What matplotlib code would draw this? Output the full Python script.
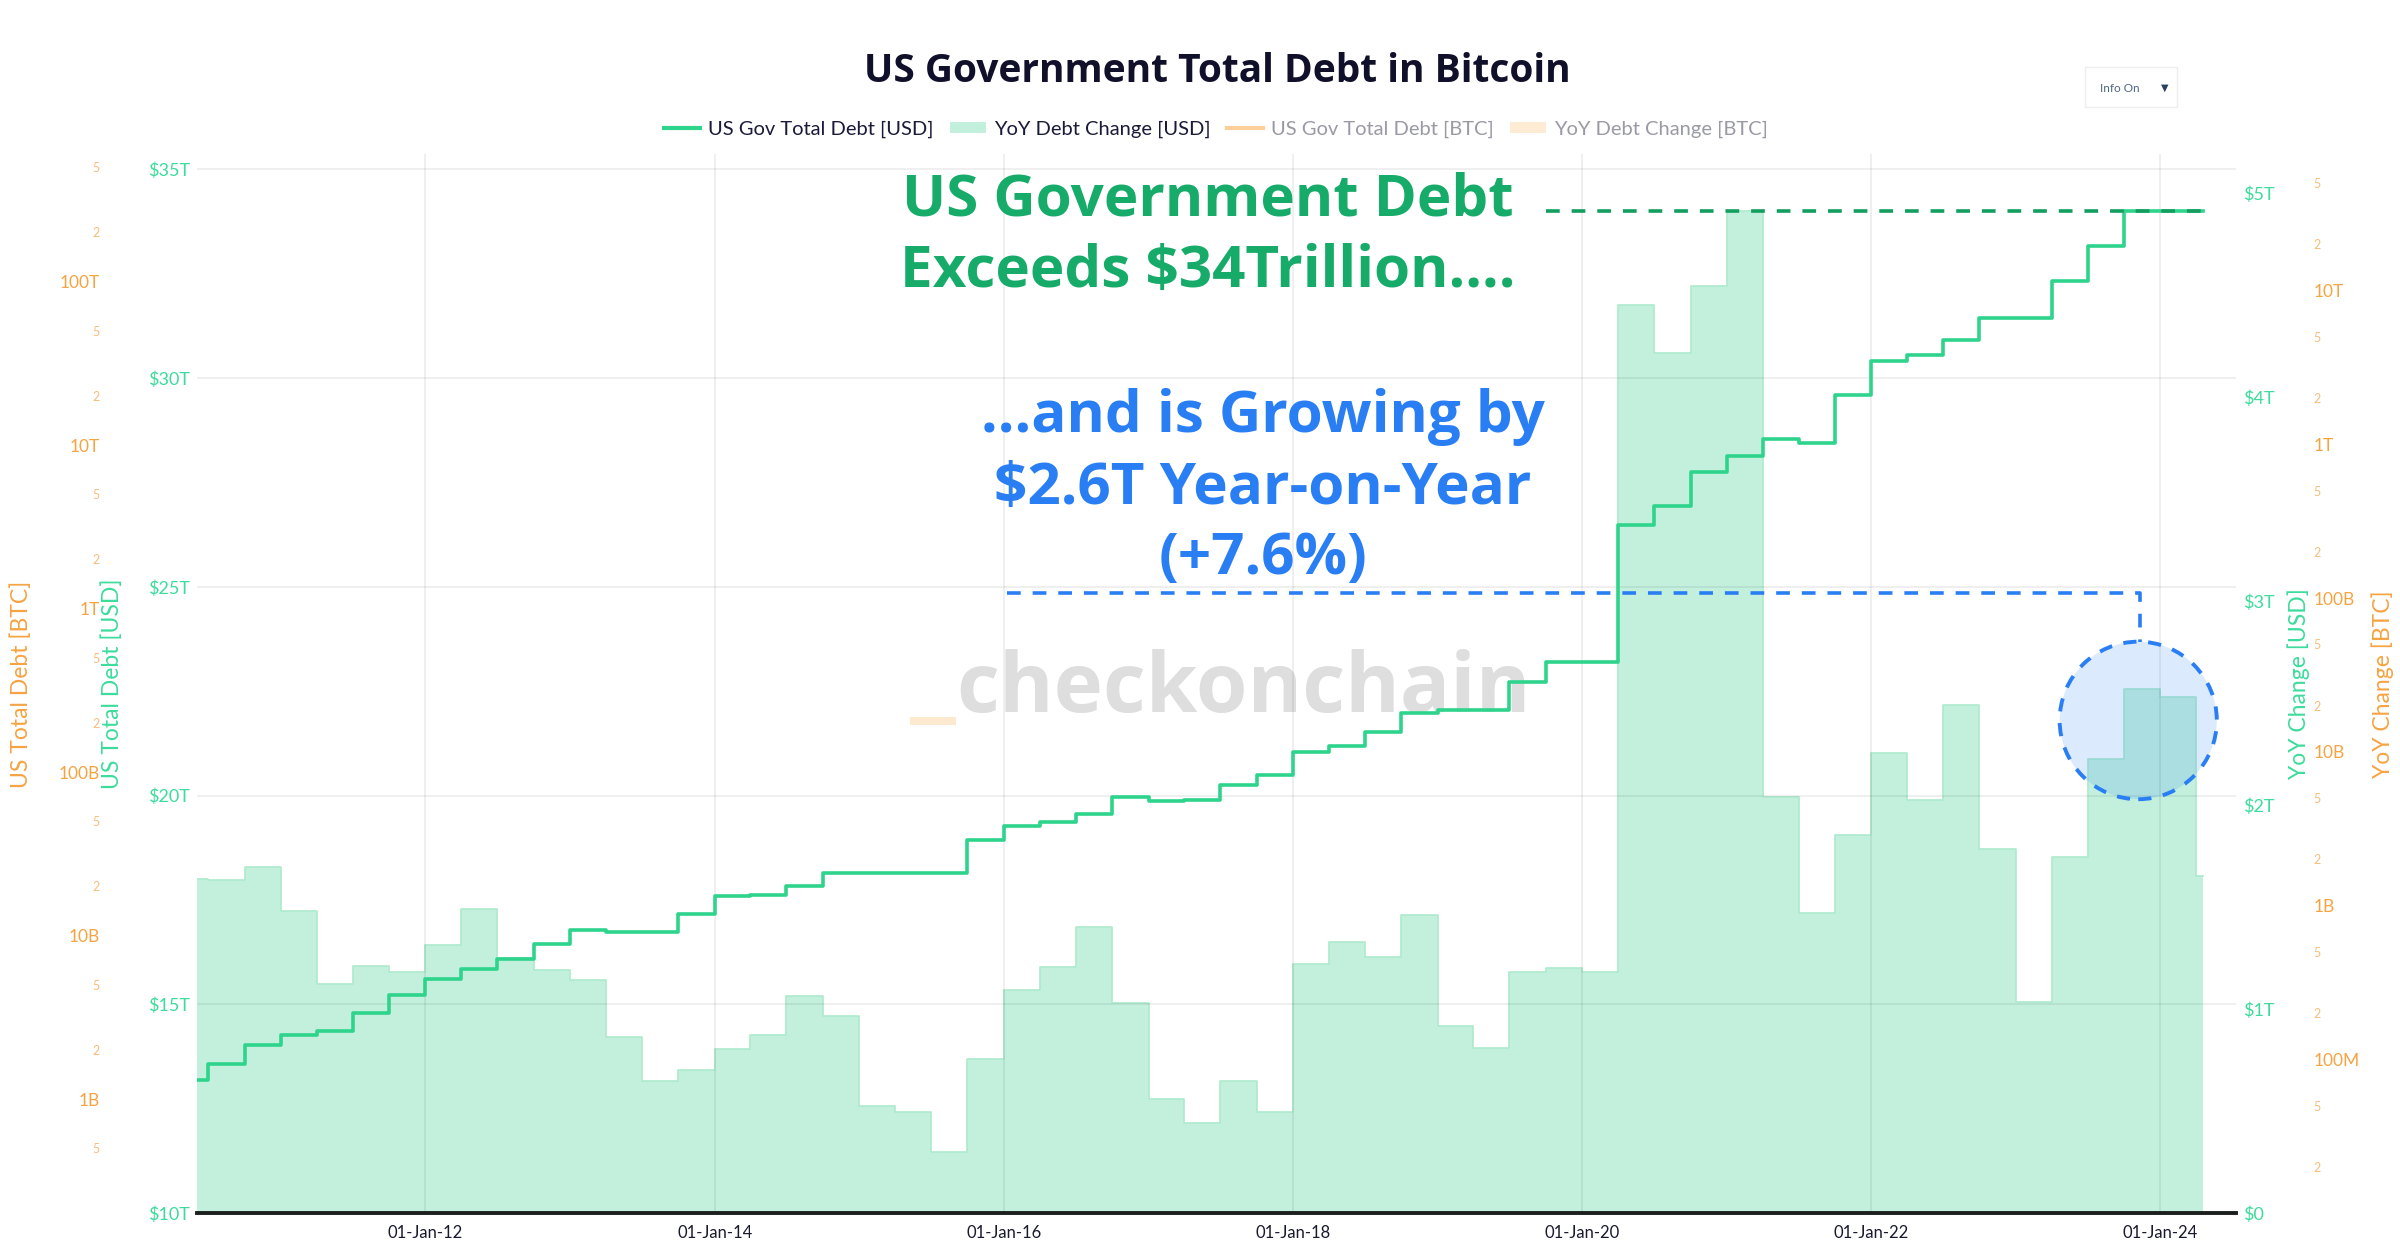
import matplotlib
matplotlib.use('Agg')
import matplotlib.pyplot as plt
from matplotlib.patches import Ellipse, Patch, Rectangle
from matplotlib.lines import Line2D
from matplotlib.ticker import FixedLocator, FixedFormatter
import matplotlib.dates as mdates
import pandas as pd
import numpy as np

# ---------------- data ----------------
quarter_starts = pd.date_range('2010-04-01', '2024-04-01', freq='QS')
last_date = pd.Timestamp('2024-04-17')

debt_usd_t = [13.19, 13.57, 14.02,
              14.27, 14.35, 14.80, 15.23,
              15.61, 15.85, 16.08, 16.44,
              16.77, 16.73, 16.73, 17.16,
              17.60, 17.63, 17.83, 18.14,
              18.14, 18.14, 18.14, 18.94,
              19.26, 19.36, 19.56, 19.97,
              19.88, 19.90, 20.26, 20.49,
              21.04, 21.19, 21.52, 21.98,
              22.04, 22.04, 22.72, 23.21,
              23.21, 26.48, 26.94, 27.75,
              28.13, 28.54, 28.44, 29.60,
              30.40, 30.56, 30.92, 31.43,
              31.45, 32.33, 33.16, 34.00,
              34.00, 34.00]

yoy_change_usd_t = [1.639, 1.632, 1.696,
                    1.479, 1.121, 1.212, 1.182,
                    1.315, 1.492, 1.248, 1.192,
                    1.141, 0.861, 0.648, 0.701,
                    0.804, 0.874, 1.065, 0.965,
                    0.524, 0.494, 0.300, 0.754,
                    1.091, 1.208, 1.402, 1.031,
                    0.557, 0.441, 0.648, 0.497,
                    1.222, 1.328, 1.255, 1.459,
                    0.915, 0.808, 1.182, 1.202,
                    1.182, 4.449, 4.216, 4.543,
                    4.910, 2.039, 1.469, 1.852,
                    2.253, 2.023, 2.490, 1.786,
                    1.035, 1.746, 2.223, 2.570,
                    2.530, 1.652]

usd_left_ticks = [10, 15, 20, 25, 30, 35]
usd_left_labels = ['$10T', '$15T', '$20T', '$25T', '$30T', '$35T']
usd_right_ticks = [0, 1, 2, 3, 4, 5]
usd_right_labels = ['$0', '$1T', '$2T', '$3T', '$4T', '$5T']
btc_left_major = [1e9, 1e10, 1e11, 1e12, 1e13, 1e14]
btc_left_major_labels = ['1B', '10B', '100B', '1T', '10T', '100T']
btc_right_major = [1e8, 1e9, 1e10, 1e11, 1e12, 1e13]
btc_right_major_labels = ['100M', '1B', '10B', '100B', '1T', '10T']
x_tick_dates = ['2012-01-01', '2014-01-01', '2016-01-01', '2018-01-01',
                '2020-01-01', '2022-01-01', '2024-01-01']
x_tick_labels = ['01-Jan-12', '01-Jan-14', '01-Jan-16', '01-Jan-18',
                 '01-Jan-20', '01-Jan-22', '01-Jan-24']

legend_labels = ['US Gov Total Debt [USD]', 'YoY Debt Change [USD]',
                 'US Gov Total Debt [BTC]', 'YoY Debt Change [BTC]']

# ---------------- style ----------------
FONT = ['Lato', 'DejaVu Sans']
BOLD_FONT = ['Open Sans', 'DejaVu Sans']
plt.rcParams['font.family'] = FONT
W, H = 2400, 1255
LINE_C = '#2ed48c'
BAR_C = '#c3f0dd'
BAR_EDGE = '#aeeacd'
TICK_G = '#3ddc9c'
ORANGE = '#f6a342'
ORANGE_L = '#f8bd7b'
ANN_GREEN = '#17ab69'
ANN_BLUE = '#2a7ef4'

fig = plt.figure(figsize=(W / 100, H / 100), dpi=100, facecolor='white')

def fx(px):
    return px / W

def fy(py):
    return 1 - py / H

pos = [197 / W, (H - 1213) / H, (2236 - 197) / W, (1213 - 154) / H]

# BTC axes (labels only)
ax_bl = fig.add_axes(pos, zorder=0)
ax_br = fig.add_axes(pos, zorder=0)
for a in (ax_bl, ax_br):
    a.patch.set_visible(False)
    for s in a.spines.values():
        s.set_visible(False)
    a.set_yscale('log')
    a.xaxis.set_visible(False)

def minor_positions(lo, hi):
    out = []
    for k in range(5, 16):
        for m in (2, 5):
            v = m * 10.0 ** k
            if lo * 1.05 < v < hi * 0.98:
                out.append(v)
    return out

def minor_labels(vals):
    return ['%g' % (v / 10 ** np.floor(np.log10(v))) for v in vals]

bl_lo, bl_hi = 10 ** 8.303, 10 ** 14.78
ax_bl.set_ylim(bl_lo, bl_hi)
ax_bl.yaxis.tick_left()
ax_bl.yaxis.set_major_locator(FixedLocator(btc_left_major))
ax_bl.yaxis.set_major_formatter(FixedFormatter(btc_left_major_labels))
mpos = minor_positions(bl_lo, bl_hi)
ax_bl.yaxis.set_minor_locator(FixedLocator(mpos))
ax_bl.yaxis.set_minor_formatter(FixedFormatter(minor_labels(mpos)))
ax_bl.tick_params(axis='y', which='major', length=0, pad=70, labelsize=12.5, labelcolor=ORANGE)
ax_bl.tick_params(axis='y', which='minor', length=0, pad=70, labelsize=9, labelcolor=ORANGE_L)

br_lo, br_hi = 10 ** 7.0, 10 ** 13.889
ax_br.set_ylim(br_lo, br_hi)
ax_br.yaxis.tick_right()
ax_br.yaxis.set_major_locator(FixedLocator(btc_right_major))
ax_br.yaxis.set_major_formatter(FixedFormatter(btc_right_major_labels))
mpos_r = minor_positions(br_lo, br_hi)
ax_br.yaxis.set_minor_locator(FixedLocator(mpos_r))
ax_br.yaxis.set_minor_formatter(FixedFormatter(minor_labels(mpos_r)))
ax_br.tick_params(axis='y', which='major', length=0, pad=56, labelsize=12.5, labelcolor=ORANGE)
ax_br.tick_params(axis='y', which='minor', length=0, pad=56, labelsize=9, labelcolor=ORANGE_L)

# main axes: line (left) + bars (right)
ax_line = fig.add_axes(pos, zorder=2)
ax_bar = ax_line.twinx()
ax_bar.set_zorder(1)
ax_line.set_zorder(2)
ax_line.patch.set_visible(False)
ax_bar.patch.set_visible(True)
ax_bar.patch.set_facecolor('white')

x_steps = list(quarter_starts) + [last_date]
bars_ext = yoy_change_usd_t + [yoy_change_usd_t[-1]]
debt_ext = debt_usd_t + [debt_usd_t[-1]]

ax_bar.fill_between(x_steps, 0, bars_ext, step='post', facecolor=BAR_C, edgecolor='none', lw=0)
ax_bar.step(x_steps, bars_ext, where='post', color=BAR_EDGE, lw=1.2)
ax_bar.set_ylim(0, 5.19)
ax_bar.yaxis.set_major_locator(FixedLocator(usd_right_ticks))
ax_bar.yaxis.set_major_formatter(FixedFormatter(usd_right_labels))
ax_bar.tick_params(axis='y', length=0, pad=5, labelsize=13, labelcolor=TICK_G)
for s in ax_bar.spines.values():
    s.set_visible(False)

ax_line.step(x_steps, debt_ext, where='post', color=LINE_C, lw=2.6, zorder=5)
ax_line.set_ylim(10, 35.37)
ax_line.set_xlim(pd.Timestamp('2010-06-03'), pd.Timestamp('2024-07-10'))
ax_line.yaxis.set_major_locator(FixedLocator(usd_left_ticks))
ax_line.yaxis.set_major_formatter(FixedFormatter(usd_left_labels))
ax_line.tick_params(axis='y', length=0, pad=5, labelsize=13, labelcolor=TICK_G)
ax_line.xaxis.set_major_locator(FixedLocator(mdates.date2num(pd.to_datetime(x_tick_dates))))
ax_line.xaxis.set_major_formatter(FixedFormatter(x_tick_labels))
ax_line.tick_params(axis='x', length=0, pad=9, labelsize=12, labelcolor='#1a1a2e')
ax_line.grid(True, color='black', alpha=0.075, lw=1.2)
ax_line.set_axisbelow(True)
for k in ('top', 'left', 'right'):
    ax_line.spines[k].set_visible(False)
ax_line.spines['bottom'].set_color('#1b1f1d')
ax_line.spines['bottom'].set_linewidth(2.8)

# annotations: dashed lines and circle
ax_line.plot([pd.Timestamp('2019-10-01'), last_date], [debt_usd_t[-1], debt_usd_t[-1]],
             color='#139d5e', lw=2.6, dashes=(3.8, 3.3), zorder=6)
d_start = pd.Timestamp('2016-01-10')
d_corner = pd.Timestamp('2023-11-10')
ax_line.plot([d_start, d_corner, d_corner], [24.86, 24.86, 23.69],
             color=ANN_BLUE, lw=2.6, dashes=(3.8, 3.3), zorder=6)
ell = Ellipse((mdates.date2num(pd.Timestamp('2023-11-06')), 21.80), width=397, height=3.774,
              facecolor=(0.16, 0.50, 0.96, 0.16), edgecolor=ANN_BLUE, lw=2.8,
              linestyle=(0, (3.4, 3.0)), zorder=7)
ax_line.add_patch(ell)

# watermark
fig.text(fx(1243), fy(712), 'checkonchain', ha='center', va='baseline',
         fontsize=60, fontweight='bold', color='#dedede', family=BOLD_FONT, zorder=1)
fig.patches.append(Rectangle((fx(910), fy(725)), (956 - 910) / W, 8 / H, transform=fig.transFigure,
                             facecolor='#fde9cf', edgecolor='none', zorder=1))

# annotation texts
ann_kw = dict(ha='center', va='baseline', fontsize=42, fontweight='bold', family=BOLD_FONT, zorder=10)
fig.text(fx(1208), fy(216), 'US Government Debt', color=ANN_GREEN, **ann_kw)
fig.text(fx(1208), fy(287), 'Exceeds $34Trillion....', color=ANN_GREEN, **ann_kw)
fig.text(fx(1263), fy(432), '...and is Growing by', color=ANN_BLUE, **ann_kw)
fig.text(fx(1263), fy(504), '$2.6T Year-on-Year', color=ANN_BLUE, **ann_kw)
fig.text(fx(1263), fy(574), '(+7.6%)', color=ANN_BLUE, **ann_kw)

# title
fig.text(fx(1217), fy(82), 'US Government Total Debt in Bitcoin', ha='center', va='baseline',
         fontsize=28, fontweight='bold', color='#10102a', family=BOLD_FONT)

# axis titles
fig.text(fx(21), fy(684), 'US Total Debt [BTC]', rotation=90, ha='center', va='center',
         fontsize=16.5, color=ORANGE)
fig.text(fx(112), fy(684), 'US Total Debt [USD]', rotation=90, ha='center', va='center',
         fontsize=16.5, color=TICK_G)
fig.text(fx(2299), fy(684), 'YoY Change [USD]', rotation=90, ha='center', va='center',
         fontsize=16.5, color=TICK_G)
fig.text(fx(2383), fy(684), 'YoY Change [BTC]', rotation=90, ha='center', va='center',
         fontsize=16.5, color=ORANGE)

# legend
handles = [Line2D([], [], color=LINE_C, lw=3),
           Patch(facecolor=BAR_C, edgecolor='none'),
           Line2D([], [], color='#fbcf98', lw=3),
           Patch(facecolor='#fdebd3', edgecolor='none')]
leg = fig.legend(handles, legend_labels, loc='center', ncol=4,
                 bbox_to_anchor=(fx(1216), fy(129)), frameon=False, fontsize=14.5,
                 handlelength=1.8, handleheight=0.5, handletextpad=0.4, columnspacing=0.8)
for t, c in zip(leg.get_texts(), ['#1a1a3a', '#1a1a3a', '#9a9aa6', '#9a9aa6']):
    t.set_color(c)

# Info On button
fig.patches.append(Rectangle((fx(2085), fy(107)), 92 / W, 40 / H, transform=fig.transFigure,
                             facecolor='white', edgecolor='#eeeeee', lw=1))
fig.text(fx(2100), fy(88), 'Info On', ha='left', va='center', fontsize=8.5, color='#506784')
fig.text(fx(2165), fy(88), '\u25BC', ha='center', va='center', fontsize=7, color='#2a3f5f',
         family=['DejaVu Sans'])

fig.savefig('out.png', dpi=100, facecolor='white')
